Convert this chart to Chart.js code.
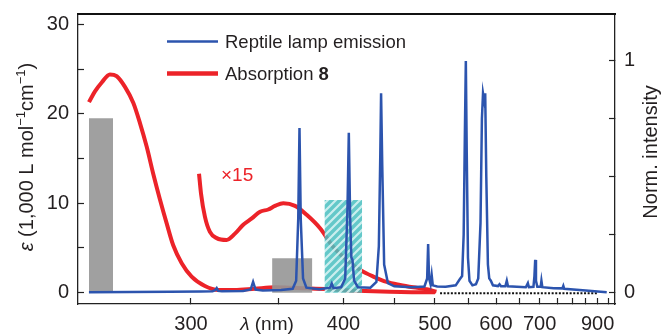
<!DOCTYPE html>
<html>
<head>
<meta charset="utf-8">
<script src="https://cdn.jsdelivr.net/npm/chart.js@4.4.1/dist/chart.umd.min.js"></script>
<style>
  html, body { margin: 0; padding: 0; background: #fff; }
  canvas { display: block; }
</style>
</head>
<body>
<canvas id="chart" width="662" height="335"></canvas>
<script>
// values; wavelengths in nm
const emissionNm = [257, 290, 305, 311, 312.5, 313.2, 314, 316, 328, 332.5, 334, 335.5, 340, 352, 360,
  362.5, 364, 364.9, 365.8, 367.5, 370, 380, 388.5, 390, 391.5, 398, 401.5, 403.5, 404.7, 405.9, 407, 408,
  409.5, 413, 425, 431, 433.5, 435, 435.8, 437, 439, 443, 450, 470, 486, 489.5, 490.8, 492, 494, 495.5,
  497, 503, 515, 530, 536, 540, 542.5, 544.5, 546, 547.5, 549.5, 552, 557, 563, 567, 571, 573.5, 575.5,
  577.5, 579.5, 581.5, 584.5, 587, 590, 594, 604, 607, 610, 619, 622, 624.5, 665, 670, 672.5, 684, 686.5,
  688.5, 690.5, 694, 703, 705, 707.5, 740, 767, 770, 773, 850, 942];
const emissionI = [0, 0.002, 0.003, 0.004, 0.01, 0.018, 0.006, 0.004, 0.006, 0.012, 0.045, 0.012, 0.008, 0.01, 0.015,
  0.05, 0.32, 0.71, 0.32, 0.06, 0.02, 0.013, 0.02, 0.038, 0.018, 0.022, 0.06, 0.36, 0.69, 0.32, 0.15, 0.14,
  0.05, 0.022, 0.02, 0.045, 0.2, 0.6, 0.86, 0.55, 0.12, 0.04, 0.026, 0.022, 0.025, 0.06, 0.209, 0.06, 0.035, 0.075,
  0.03, 0.025, 0.024, 0.03, 0.055, 0.07, 0.25, 0.7, 1.0, 0.6, 0.15, 0.05, 0.03, 0.035, 0.06, 0.3, 0.75, 0.86,
  0.83, 0.86, 0.5, 0.12, 0.06, 0.05, 0.03, 0.027, 0.035, 0.026, 0.026, 0.05, 0.026, 0.022, 0.04, 0.022, 0.024, 0.07,
  0.14, 0.05, 0.024, 0.024, 0.05, 0.022, 0.018, 0.017, 0.028, 0.015, 0.008, 0];

const absNm = [257, 259.2, 261.7, 264.8, 267.4, 270.7, 274.1, 276.9, 279.7, 282.5, 285.5, 288.5, 291.5, 295.5,
  300.3, 307, 314, 323, 335, 348, 358, 370, 385, 397, 420, 445, 470, 500];
const absEps = [21.3, 22.5, 23.5, 24.4, 24.2, 23.0, 21.2, 18.9, 16.3, 13.3, 10.4, 7.75, 5.3, 3.3,
  1.8, 0.75, 0.3, 0.3, 0.45, 0.6, 0.55, 0.5, 0.4, 0.3, 0.18, 0.1, 0.06, 0.05];

// the same absorption multiplied by 15
const abs15Nm = [304, 305, 307, 309.6, 313.2, 318.6, 323.3, 328.1, 333.2, 338.3, 343.5, 347.9, 353.5, 361.7,
  370.2, 380.5, 391.3, 402.8, 415, 427.9, 441.7, 456.4, 472, 488.9, 502];
const abs15Eps = [13.3, 11.1, 8.5, 6.8, 6.1, 5.9, 6.6, 7.6, 8.3, 9.05, 9.3, 9.7, 10.0, 9.7,
  8.7, 7.2, 5.1, 3.65, 2.55, 1.8, 1.2, 0.86, 0.6, 0.38, 0.12];

const bandStartNm = [257, 346, 384];
const bandEndNm = [266, 374.5, 417];
const bandEps = [19.5, 3.85, 10.35];

const zeroLineNm = [507, 897];

const xTickNm = [300, 350, 400, 450, 500, 550, 600, 650, 700, 750, 800, 850, 900, 950];
const xLabelNm = [300, 400, 500, 600, 700, 900];
const yTicks = [0, 5, 10, 15, 20, 25, 30];
const yLabels = [0, 10, 20, 30];
const y2Ticks = [0, 0.25, 0.5, 0.75, 1];
const y2Labels = [0, 1];

const FONT = '"Liberation Sans", Arial, Helvetica, sans-serif';
const TEXT = '#231f20';
const RED = '#ec2329';
const BLUE = '#2c54ae';

// axis is linear in wavenumber (1/lambda)
const toK = nm => 1000 / nm;
const pts = (xs, ys) => xs.map((nm, i) => ({x: toK(nm), y: ys[i]}));

function hatch(){
    const c = document.createElement('canvas');
    c.width = 8; c.height = 8;
    const g = c.getContext('2d');
    g.fillStyle = 'rgba(72,190,192,0.85)';
    g.fillRect(0, 0, 8, 8);
    g.strokeStyle = 'rgba(215,243,243,0.9)';
    g.lineWidth = 2.2;
    g.beginPath();
    g.moveTo(-2, 10); g.lineTo(10, -2);
    g.moveTo(-2, 2); g.lineTo(2, -2);
    g.moveTo(6, 10); g.lineTo(10, 6);
    g.stroke();
    return g.createPattern(c, 'repeat');
}

const bandFill = ['rgba(150,150,150,0.9)', 'rgba(150,150,150,0.9)', hatch()];
const bandSets = bandStartNm.map((s, i) => ({
    data: [{x: toK(s), y: 0}, {x: toK(s), y: bandEps[i]}, {x: toK(bandEndNm[i]), y: bandEps[i]}, {x: toK(bandEndNm[i]), y: 0}],
    yAxisID: 'y',
    borderWidth: 0,
    backgroundColor: bandFill[i],
    fill: 'origin',
    pointRadius: 0,
    tension: 0,
    order: 1
}));

const datasets = [
    {data: pts(absNm, absEps), yAxisID: 'y', borderColor: RED, borderWidth: 4, pointRadius: 0,
     cubicInterpolationMode: 'monotone', fill: false, order: 2},
    {data: pts(abs15Nm, abs15Eps), yAxisID: 'y', borderColor: RED, borderWidth: 4, pointRadius: 0,
     cubicInterpolationMode: 'monotone', fill: false, order: 2},
    {data: zeroLineNm.map(nm => ({x: toK(nm), y: -0.05})), yAxisID: 'y', borderColor: '#111', borderWidth: 2,
     borderDash: [2, 1.6], pointRadius: 0, fill: false, order: 2},
    ...bandSets,
    {data: pts(emissionNm, emissionI), yAxisID: 'y2', borderColor: BLUE, borderWidth: 2.5, pointRadius: 0,
     tension: 0, fill: false, order: 0}
];

function drawParts(ctx, parts, x, y, rot){
    ctx.save();
    ctx.translate(x, y);
    ctx.rotate(rot);
    let total = 0;
    parts.forEach(p => { ctx.font = p.f; p.w = ctx.measureText(p.t).width; total += p.w; });
    let cx = -total / 2;
    parts.forEach(p => {
        ctx.font = p.f;
        ctx.fillText(p.t, cx, p.dy || 0);
        cx += p.w;
    });
    ctx.restore();
}

const decor = {
    id: 'decor',
    afterDraw(chart){
        const {ctx, chartArea: a} = chart;
        ctx.save();
        ctx.setLineDash([]);
        // top edge of the frame
        ctx.strokeStyle = '#111';
        ctx.lineWidth = 2;
        ctx.beginPath(); ctx.moveTo(a.left - 1, a.top); ctx.lineTo(a.right + 1, a.top); ctx.stroke();

        ctx.fillStyle = TEXT;
        ctx.textBaseline = 'alphabetic';
        ctx.textAlign = 'left';

        // legend
        ctx.lineCap = 'butt';
        ctx.strokeStyle = BLUE; ctx.lineWidth = 2.5;
        ctx.beginPath(); ctx.moveTo(167, 41.5); ctx.lineTo(218, 41.5); ctx.stroke();
        ctx.strokeStyle = RED; ctx.lineWidth = 4.5;
        ctx.beginPath(); ctx.moveTo(167, 73.5); ctx.lineTo(218, 73.5); ctx.stroke();
        ctx.font = '18.5px ' + FONT;
        ctx.fillText('Reptile lamp emission', 225, 47.5);
        const w1 = ctx.measureText('Absorption ').width;
        ctx.fillText('Absorption ', 225, 80);
        ctx.font = 'bold 18.5px ' + FONT;
        ctx.fillText('8', 225 + w1, 80);

        // x15 marker
        ctx.fillStyle = RED;
        ctx.font = '19px ' + FONT;
        ctx.fillText('\u00d715', 221, 180.5);

        // axis titles
        ctx.fillStyle = TEXT;
        drawParts(ctx, [
            {t: '\u03b5', f: 'italic 20px ' + FONT},
            {t: ' (1,000 L mol', f: '20px ' + FONT},
            {t: '\u22121', f: '13px ' + FONT, dy: -8},
            {t: 'cm', f: '20px ' + FONT},
            {t: '\u22121', f: '13px ' + FONT, dy: -8},
            {t: ')', f: '20px ' + FONT}
        ], 33, 157, -Math.PI / 2);
        drawParts(ctx, [{t: 'Norm. intensity', f: '20px ' + FONT}], 657, 152, -Math.PI / 2);
        drawParts(ctx, [
            {t: '\u03bb', f: 'italic 19px ' + FONT},
            {t: ' (nm)', f: '19px ' + FONT}
        ], 267, 329.5, 0);
        ctx.restore();
    }
};

const tickFont = {family: FONT, size: 20};
const noPad = s => { s.paddingTop = 0; s.paddingBottom = 0; s.paddingLeft = 0; s.paddingRight = 0; };

new Chart(document.getElementById('chart'), {
    type: 'line',
    data: {datasets},
    options: {
        responsive: false,
        animation: false,
        layout: {padding: {top: 14, left: 0, right: 0, bottom: 0}},
        plugins: {legend: {display: false}, tooltip: {enabled: false}},
        scales: {
            x: {
                type: 'linear',
                reverse: true,
                min: 1.0164,
                max: 3.9508,
                afterBuildTicks: s => { s.ticks = xTickNm.map(nm => ({value: toK(nm)})); },
                afterFit: s => { s.height = 31; noPad(s); },
                border: {display: true, color: '#222', width: 1.3},
                grid: {drawOnChartArea: false, tickLength: -6, tickColor: '#222', tickWidth: 1.2},
                ticks: {
                    autoSkip: false, maxRotation: 0, padding: 14, color: TEXT, font: tickFont,
                    callback: v => { const nm = Math.round(1000 / v); return xLabelNm.includes(nm) ? String(nm) : ''; }
                }
            },
            y: {
                type: 'linear',
                position: 'left',
                min: -1.263,
                max: 31.15,
                afterBuildTicks: s => { s.ticks = yTicks.map(v => ({value: v})); },
                afterFit: s => { s.width = 78; noPad(s); },
                border: {display: true, color: '#222', width: 1.3},
                grid: {drawOnChartArea: false, tickLength: -6, tickColor: '#222', tickWidth: 1.2},
                ticks: {
                    padding: 15, color: TEXT, font: tickFont,
                    callback: v => yLabels.includes(v) ? String(v) : ''
                }
            },
            y2: {
                type: 'linear',
                position: 'right',
                min: -0.0506,
                max: 1.203,
                afterBuildTicks: s => { s.ticks = y2Ticks.map(v => ({value: v})); },
                afterFit: s => { s.width = 47; noPad(s); },
                border: {display: true, color: '#222', width: 1.3},
                grid: {drawOnChartArea: false, tickLength: -6, tickColor: '#222', tickWidth: 1.2},
                ticks: {
                    padding: 15, color: TEXT, font: tickFont,
                    callback: v => y2Labels.includes(v) ? String(v) : ''
                }
            }
        }
    },
    plugins: [decor]
});
</script>
</body>
</html>
